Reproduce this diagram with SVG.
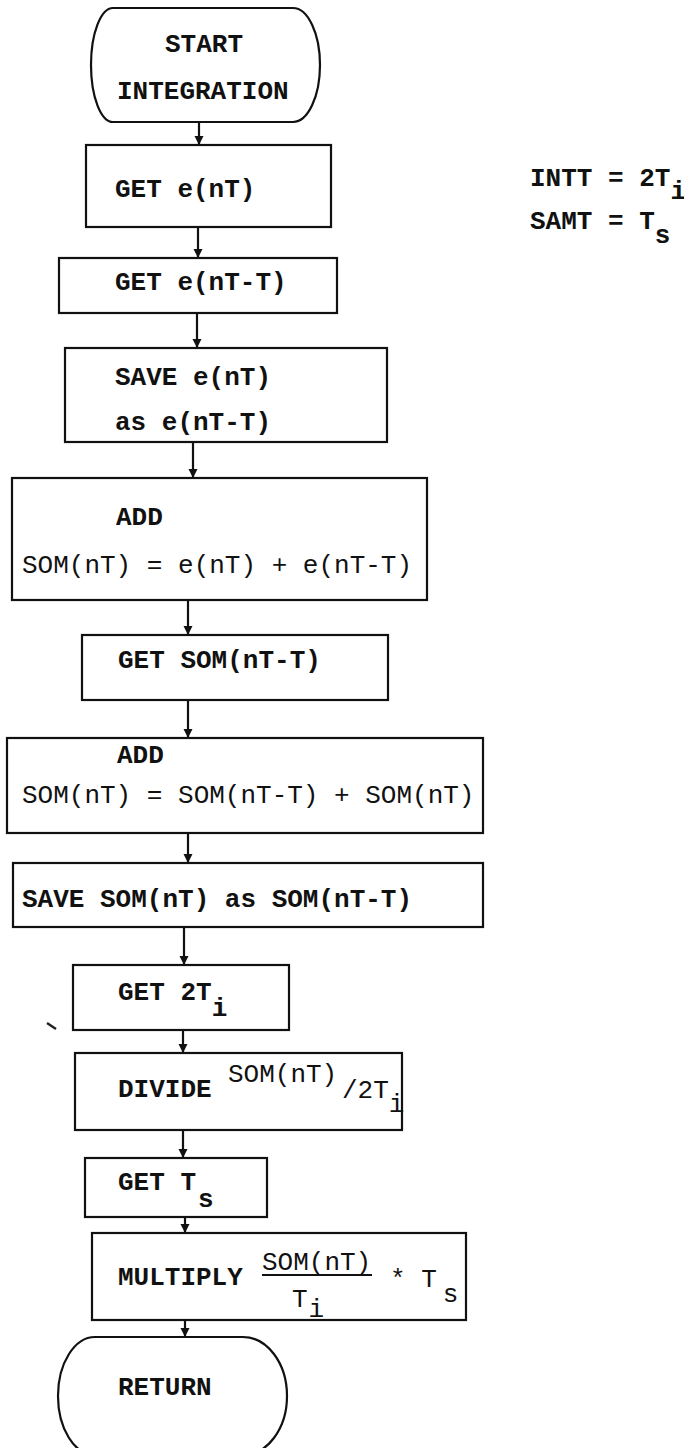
<svg xmlns="http://www.w3.org/2000/svg" width="684" height="1448" viewBox="0 0 684 1448">
<defs>
<style>
.b{fill:#fff;stroke:#111;stroke-width:2.2}
.t{font-family:"Liberation Mono","Courier New",monospace;font-size:26px;fill:#111}
.k{font-weight:bold}
.c{stroke:#111;stroke-width:2.2;fill:none}
.u{stroke:#111;stroke-width:2}
</style>
<marker id="ah" markerUnits="userSpaceOnUse" markerWidth="10" markerHeight="10" refX="9" refY="4.5" orient="auto">
<path d="M0,0 L9,4.5 L0,9 Z" fill="#111"/>
</marker>
</defs>
<rect width="684" height="1448" fill="#fff"/>

<g id="connectors">
<line class="c" x1="199" y1="122" x2="199" y2="145" marker-end="url(#ah)"/>
<line class="c" x1="198" y1="227" x2="198" y2="258" marker-end="url(#ah)"/>
<line class="c" x1="197" y1="313" x2="197" y2="348" marker-end="url(#ah)"/>
<line class="c" x1="193" y1="442" x2="193" y2="478" marker-end="url(#ah)"/>
<line class="c" x1="188" y1="600" x2="188" y2="635" marker-end="url(#ah)"/>
<line class="c" x1="188" y1="700" x2="188" y2="738" marker-end="url(#ah)"/>
<line class="c" x1="188" y1="833" x2="188" y2="863" marker-end="url(#ah)"/>
<line class="c" x1="184" y1="927" x2="184" y2="965" marker-end="url(#ah)"/>
<line class="c" x1="183" y1="1030" x2="183" y2="1053" marker-end="url(#ah)"/>
<line class="c" x1="183" y1="1130" x2="183" y2="1158" marker-end="url(#ah)"/>
<line class="c" x1="185" y1="1217" x2="185" y2="1233" marker-end="url(#ah)"/>
<line class="c" x1="185" y1="1320" x2="185" y2="1337" marker-end="url(#ah)"/>
</g>

<g id="start">
<path class="b" d="M113,8 H293 A27,57 0 0 1 293,122 H113 A22,57 0 0 1 113,8 Z"/>
<text class="t k" x="204" y="52" text-anchor="middle">START</text>
<text class="t k" x="117" y="99">INTEGRATION</text>
</g>

<g id="get-ent">
<rect class="b" x="86" y="145" width="245" height="82"/>
<text class="t k" x="115" y="197">GET e(nT)</text>
</g>

<g id="get-ent-t">
<rect class="b" x="59" y="258" width="278" height="55"/>
<text class="t k" x="115" y="290">GET e(nT-T)</text>
</g>

<g id="save-ent">
<rect class="b" x="65" y="348" width="322" height="94"/>
<text class="t k" x="115" y="385">SAVE e(nT)</text>
<text class="t k" x="115" y="430">as e(nT-T)</text>
</g>

<g id="add1">
<rect class="b" x="12" y="478" width="415" height="122"/>
<text class="t k" x="116" y="525">ADD</text>
<text class="t" x="22" y="573">SOM(nT) = e(nT) + e(nT-T)</text>
</g>

<g id="get-som">
<rect class="b" x="82" y="635" width="306" height="65"/>
<text class="t k" x="118" y="668">GET SOM(nT-T)</text>
</g>

<g id="add2">
<rect class="b" x="7" y="738" width="476" height="95"/>
<text class="t k" x="117" y="763">ADD</text>
<text class="t" x="22" y="803">SOM(nT) = SOM(nT-T) + SOM(nT)</text>
</g>

<g id="save-som">
<rect class="b" x="13" y="863" width="470" height="64"/>
<text class="t k" x="22" y="907">SAVE SOM(nT) as SOM(nT-T)</text>
</g>

<g id="get-2ti">
<rect class="b" x="73" y="965" width="216" height="65"/>
<text class="t k" x="118" y="1000">GET 2T<tspan dy="16">i</tspan></text>
</g>

<g id="divide">
<rect class="b" x="75" y="1053" width="327" height="77"/>
<text class="t k" x="118" y="1097">DIVIDE</text>
<text class="t" x="228" y="1082">SOM(nT)</text>
<text class="t" x="342" y="1098">/2T<tspan dy="14">i</tspan></text>
</g>

<g id="get-ts">
<rect class="b" x="85" y="1158" width="182" height="59"/>
<text class="t k" x="118" y="1190">GET T<tspan dx="2" dy="17">s</tspan></text>
</g>

<g id="multiply">
<rect class="b" x="92" y="1233" width="374" height="87"/>
<text class="t k" x="118" y="1285">MULTIPLY</text>
<text class="t" x="262" y="1270">SOM(nT)</text>
<line class="u" x1="262" y1="1275" x2="372" y2="1275"/>
<text class="t" x="292" y="1307">T<tspan dx="1" dy="10">i</tspan></text>
<text class="t" x="390" y="1287">* T<tspan dx="6" dy="15">s</tspan></text>
</g>

<g id="return">
<path class="b" d="M95,1337 H243 A44,59 0 0 1 243,1455 H95 A37,59 0 0 1 95,1337 Z"/>
<text class="t k" x="118" y="1395">RETURN</text>
</g>

<g id="notes">
<text class="t k" x="530" y="186" font-size="25">INTT = 2T<tspan dy="13">i</tspan></text>
<text class="t k" x="530" y="229" font-size="25">SAMT = T<tspan dy="14">s</tspan></text>
</g>

<line x1="47" y1="1023" x2="56" y2="1029" stroke="#222" stroke-width="2.5"/>
</svg>
